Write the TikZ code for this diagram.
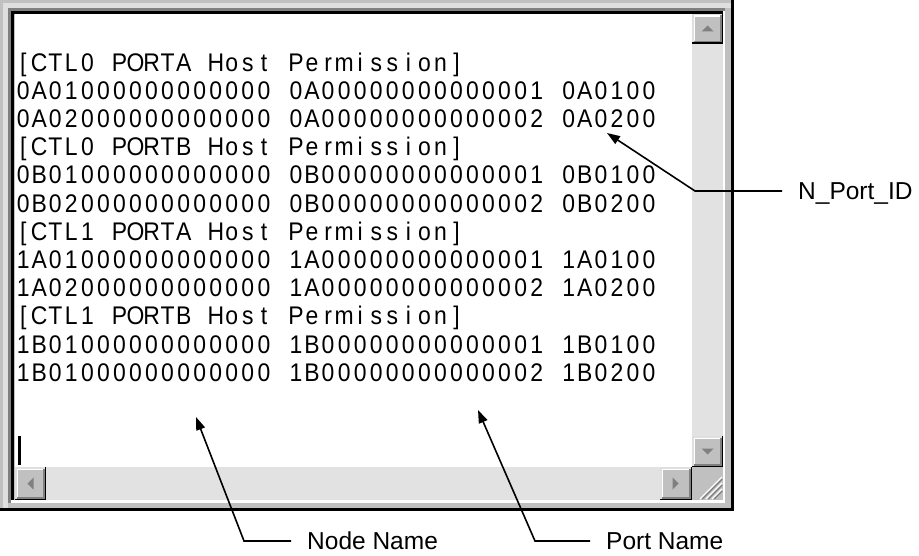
\documentclass[tikz,border=0pt]{standalone}
\usepackage{fontspec}
\setmainfont{Liberation Sans}
\newfontfamily\bmfont[FakeStretch=0.9]{Liberation Sans}
\usetikzlibrary{arrows.meta}
\ExplSyntaxOn
\NewDocumentCommand\celltext{m}{\str_map_inline:nn {#1}{\makebox[16.05pt][c]{##1}}}
\ExplSyntaxOff
\definecolor{face}{HTML}{C0C0C0}
\definecolor{darkg}{HTML}{808080}
\definecolor{lightg}{HTML}{DFDFDF}
\definecolor{track}{HTML}{E2E2E2}
\newcommand\winbtn[4]{%
  \fill[black] (#1,#2) rectangle (#3,#4);
  \fill[lightg] (#1,#2) rectangle (#3-1.5,#4-1.5);
  \fill[darkg] (#1+1.5,#2+1.5) rectangle (#3-1.5,#4-1.5);
  \fill[white] (#1+1.5,#2+1.5) rectangle (#3-3,#4-3);
  \fill[face] (#1+3,#2+3) rectangle (#3-3,#4-3);
}
\begin{document}
\begin{tikzpicture}[x=1pt,y=-1pt,
  rowtxt/.style={inner sep=0pt, anchor=base west, font={\bmfont\fontsize{25.5}{26}\selectfont}},
  lbl/.style={inner xsep=16pt, inner ysep=0pt, text height=17.5pt, text depth=0pt, anchor=west, font={\fontsize{24.5}{26}\selectfont}},
  leader/.style={line width=1.6pt, line join=miter, -{Triangle[length=13pt,width=9pt]}}]
\useasboundingbox (0,0) rectangle (919,556);
\fill[white] (0,0) rectangle (919,556);
% window frame
\fill[face] (0,0) rectangle (734,511);
\fill[lightg] (3,3) rectangle (731,8);
\fill[lightg] (3,3) rectangle (8,508);
\fill[black] (731,0) rectangle (734,511);
\fill[black] (0,508) rectangle (734,511);
\fill[darkg] (8,8) rectangle (725,503);
\fill[white] (11,11) rectangle (725,503);
\fill[black] (11,11) rectangle (723,500);
\fill[face] (14,14) rectangle (723,500);
% client area and tracks
\fill[white] (15,14) rectangle (692,467);
\fill[track] (692,14) rectangle (723,467);
\fill[track] (15,467) rectangle (692,500);
% buttons
\winbtn{692}{14}{723}{44}
\winbtn{692}{436}{723}{467}
\winbtn{15}{467}{46}{500}
\winbtn{660}{467}{692}{500}
\fill[face] (692,467) rectangle (723,500);
\fill[darkg] (701.5,31.5) -- (713.5,31.5) -- (707.5,25.5) -- cycle;
\fill[darkg] (701.5,448.5) -- (713.5,448.5) -- (707.5,454.5) -- cycle;
\fill[darkg] (33.5,477.5) -- (33.5,489.5) -- (27.5,483.5) -- cycle;
\fill[darkg] (672.5,477.5) -- (672.5,489.5) -- (678.5,483.5) -- cycle;
% size grip
\foreach \k in {8,14,20}{
  \draw[darkg, line width=1.6pt] (722-\k,499) -- (722,499-\k);
  \draw[white, line width=1.2pt] (720-\k,499) -- (722,497-\k);
}
% caret
\fill[black] (18,436) rectangle (21,465);
% text rows
\node[rowtxt] (r1) at (15,71.1) {\celltext{[CTL0 PORTA Host Permission]}};
\node[rowtxt] (r2) at (15,99.3) {\celltext{0A01000000000000 0A00000000000001 0A0100}};
\node[rowtxt] (r3) at (15,127.5) {\celltext{0A02000000000000 0A00000000000002 0A0200}};
\node[rowtxt] (r4) at (15,155.7) {\celltext{[CTL0 PORTB Host Permission]}};
\node[rowtxt] (r5) at (15,183.9) {\celltext{0B01000000000000 0B00000000000001 0B0100}};
\node[rowtxt] (r6) at (15,212.1) {\celltext{0B02000000000000 0B00000000000002 0B0200}};
\node[rowtxt] (r7) at (15,240.3) {\celltext{[CTL1 PORTA Host Permission]}};
\node[rowtxt] (r8) at (15,268.5) {\celltext{1A01000000000000 1A00000000000001 1A0100}};
\node[rowtxt] (r9) at (15,296.7) {\celltext{1A02000000000000 1A00000000000002 1A0200}};
\node[rowtxt] (r10) at (15,324.9) {\celltext{[CTL1 PORTB Host Permission]}};
\node[rowtxt] (r11) at (15,353.1) {\celltext{1B01000000000000 1B00000000000001 1B0100}};
\node[rowtxt] (r12) at (15,381.3) {\celltext{1B01000000000000 1B00000000000002 1B0200}};
% labels and leaders
\node[lbl] (nport) at (782,191) {N\_Port\_ID};
\node[lbl] (nname) at (291,541) {Node Name};
\node[lbl] (pname) at (590,541) {Port Name};
\coordinate (nptip) at (607,133);
\coordinate (npbend) at (695,191);
\coordinate (nntip) at (196,417);
\coordinate (nnbend) at (244,541);
\coordinate (pntip) at (478,410);
\coordinate (pnbend) at (535,541);
\draw[leader] (nport.west) -- (npbend) -- (nptip);
\draw[leader] (nname.west) -- (nnbend) -- (nntip);
\draw[leader] (pname.west) -- (pnbend) -- (pntip);
\end{tikzpicture}
\end{document}
